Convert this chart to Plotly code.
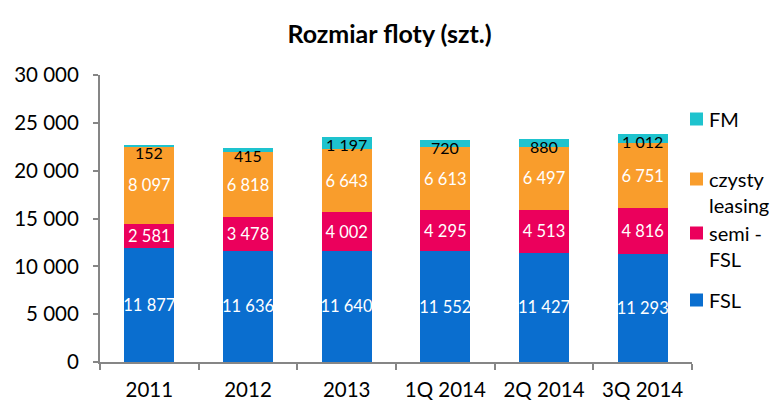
import plotly.graph_objects as go

categories = ["2011", "2012", "2013", "1Q 2014", "2Q 2014", "3Q 2014"]
fsl = [11877, 11636, 11640, 11552, 11427, 11293]
semi_fsl = [2581, 3478, 4002, 4295, 4513, 4816]
czysty = [8097, 6818, 6643, 6613, 6497, 6751]
fm = [152, 415, 1197, 720, 880, 1012]

series_names = ["FSL", "semi - FSL", "czysty leasing", "FM"]
legend_labels = ["FSL", "semi -<br>FSL", "czysty<br>leasing", "FM"]
colors = ["#0A6ECF", "#EB005C", "#F99D2C", "#1EC3CE"]

FONT = "Lato"
fig = go.Figure()
for name, vals, col in zip(series_names[:3], [fsl, semi_fsl, czysty], colors[:3]):
    fig.add_trace(go.Bar(
        x=categories, y=vals, name=name, marker=dict(color=col, line=dict(width=0)),
        text=[f"{v:,}".replace(",", " ") for v in vals], textposition="inside",
        insidetextanchor="middle", textangle=0, cliponaxis=False,
        textfont=dict(color="white", size=16.5, family=FONT), showlegend=False,
    ))
fig.add_trace(go.Bar(x=categories, y=fm, name="FM", marker=dict(color=colors[3], line=dict(width=0)),
                     showlegend=False))

totals = [a + b + c + d for a, b, c, d in zip(fsl, semi_fsl, czysty, fm)]
for i, (tot, v) in enumerate(zip(totals, fm)):
    fig.add_annotation(x=i, y=tot, text=f"{v:,}".replace(",", " "), showarrow=False,
                       yanchor="top", yshift=4, font=dict(color="black", size=16, family=FONT))

# manual legend
leg_y = [300, 233, 179, 119]
H = 407
for lab, col, yy in zip(legend_labels, colors, leg_y):
    fig.add_shape(type="rect", xref="paper", yref="paper",
                  x0=(690 - 100) / 592, x1=(703 - 100) / 592,
                  y0=(H - 45 - (yy + 6.5)) / (H - 120), y1=(H - 45 - (yy - 6.5)) / (H - 120),
                  fillcolor=col, line=dict(width=0))
    fig.add_annotation(xref="paper", yref="paper", x=(707 - 100) / 592,
                       y=(H - 45 - (yy - 14)) / (H - 120), xanchor="left", yanchor="top",
                       text=lab, showarrow=False, align="left",
                       font=dict(size=20, color="black", family=FONT))

fig.update_layout(
    width=779, height=407, barmode="stack", bargap=0.49,
    uniformtext=dict(minsize=16.5, mode="show"),
    margin=dict(l=100, r=87, t=75, b=45, autoexpand=False),
    plot_bgcolor="white", paper_bgcolor="white",
    title=dict(text="<b>Rozmiar floty (szt.)</b>", x=0.5, xanchor="center", y=0.915, yanchor="middle",
               font=dict(size=25, color="black", family=FONT)),
    separators=", ",
    xaxis=dict(type="category", showline=True, linecolor="#868686", linewidth=2, ticks="outside",
               tickson="boundaries", ticklen=6, tickcolor="#868686", tickwidth=2, tickangle=0,
               ticklabelstandoff=8,
               automargin=False, tickfont=dict(size=20.5, color="black", family=FONT)),
    yaxis=dict(range=[0, 30000], dtick=5000, tickformat=",d", showgrid=False, showline=True,
               linecolor="#868686", linewidth=2, ticks="outside", ticklen=5, tickcolor="#868686",
               tickwidth=2, zeroline=False, automargin=False, ticklabelstandoff=10,
               tickfont=dict(size=20.5, color="black", family=FONT)),
    showlegend=False,
)
fig.write_html("out.html")
